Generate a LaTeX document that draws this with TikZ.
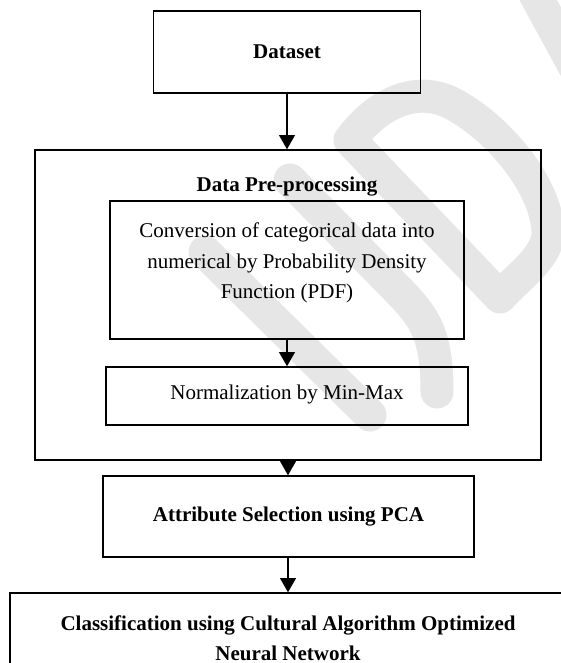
\documentclass[tikz,border=0pt]{standalone}
\usepackage{fontspec}
\setmainfont{Liberation Serif}
\usepackage{tikz}
\usetikzlibrary{arrows.meta,positioning}
\definecolor{wmgray}{RGB}{230,230,230}
\tikzset{
  box/.style={draw, line width=0.9pt, inner sep=0pt, align=center},
  arr/.style={-{Triangle[length=9.5pt,width=10.5pt]}, line width=1.3pt},
  wm/.style={wmgray, line width=22pt, line cap=round, line join=round}
}

\begin{document}
\begin{tikzpicture}[x=0.6667pt, y=-0.6667pt, font=\fontsize{14}{20.3}\selectfont]
\useasboundingbox (0,0) rectangle (560,663);
% Watermark
\draw[wm] (530,-15) -- (590,95);
\draw[wm] (500,297) -- (350,140) .. controls (380,100) and (420,85) .. (455,105)
  .. controls (500,130) and (545,185) .. (548,230) .. controls (550,255) and (520,275) .. (500,297);
\draw[wm] (205,252) -- (370,415);
\draw[wm] (290,180) -- (400,292) .. controls (425,318) and (437,335) .. (437,392);
% Dataset
\node[box, minimum width=178pt, minimum height=54.7pt] (ds) at (287,52) {\bfseries Dataset};
% Pre-processing block
\node[box, minimum width=337.3pt, minimum height=206.7pt] (pre) at (288,305) {};
\node[font=\fontsize{14}{20.3}\selectfont\bfseries] (pretitle) at (287,187) {Data Pre-processing};
\node[box, minimum width=236pt, minimum height=92pt] (conv) at (287,270) {};
\node[align=center] (convtxt) at (287,263) {Conversion of categorical data into\\numerical by Probability Density\\Function (PDF)};
\node[box, minimum width=241.3pt, minimum height=38.7pt] (norm) at (287,396) {};
\node (normtxt) at (287,394) {Normalization by Min-Max};
% PCA and classifier
\node[box, minimum width=247.3pt, minimum height=54pt] (attr) at (288.5,516.5) {\bfseries Attribute Selection using PCA};
\node[box, minimum width=370.7pt, minimum height=60pt] (cls) at (288,638) {\bfseries Classification using Cultural Algorithm Optimized\\\bfseries Neural Network};
% Arrows
\draw[arr] (ds.south) -- (ds.south |- pre.north);
\draw[arr] (conv.south) -- (norm.north);
\draw[arr] (pre.south) -- (pre.south |- attr.north);
\draw[arr] (pre.south |- attr.south) -- (pre.south |- cls.north);
\end{tikzpicture}
\end{document}
